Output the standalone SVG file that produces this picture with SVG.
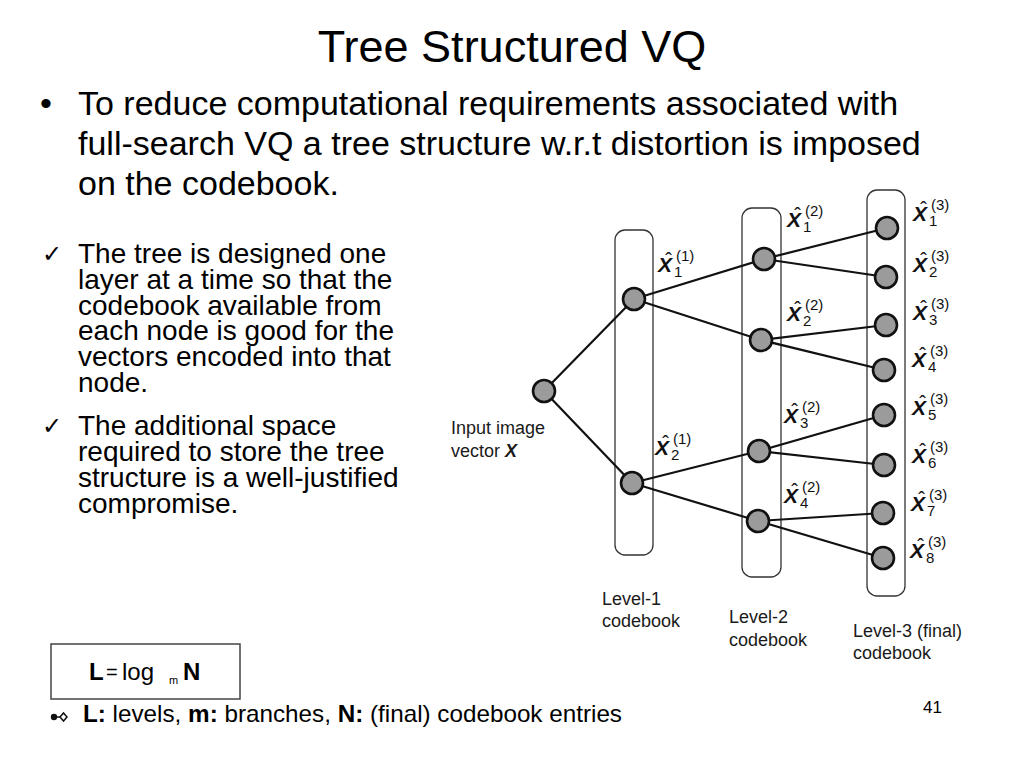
<svg xmlns="http://www.w3.org/2000/svg" width="1024" height="768" viewBox="0 0 1024 768">
<style>
text{font-family:"Liberation Sans",Arial,sans-serif;fill:#000}
.title{font-size:45px}
.b1{font-size:34px}
.b2{font-size:28px}
.chk{font-family:"DejaVu Sans",sans-serif;font-size:24px}
.lab{font-size:18px;fill:#1a1a1a}
.xv{font-size:21px;font-weight:bold;font-style:italic;fill:#111}
.hat{font-size:20px;fill:#111}
.ss{font-size:15px;fill:#111}
.cb{fill:none;stroke:#333;stroke-width:1.3}
.nd{fill:#9b9b9b;stroke:#111;stroke-width:2.6}
.ed{stroke:#111;stroke-width:2.2;fill:none}
.f1{font-size:24px}
</style>
<rect width="1024" height="768" fill="#fff"/>
<text class="title" x="512" y="62" text-anchor="middle">Tree Structured VQ</text>
<g id="main-text">
<text class="b1" x="40" y="115">•</text>
<text class="b1" x="78" y="115">To reduce computational requirements associated with</text>
<text class="b1" x="78" y="155">full-search VQ a tree structure w.r.t distortion is imposed</text>
<text class="b1" x="78" y="195">on the codebook.</text>
</g>
<g id="sub-bullets">
<text class="chk" x="42" y="262">✓</text>
<text class="b2" x="78" y="263">The tree is designed one</text>
<text class="b2" x="78" y="289">layer at a time so that the</text>
<text class="b2" x="78" y="314.5">codebook available from</text>
<text class="b2" x="78" y="340">each node is good for the</text>
<text class="b2" x="78" y="366">vectors encoded into that</text>
<text class="b2" x="78" y="391.5">node.</text>
<text class="chk" x="42" y="434">✓</text>
<text class="b2" x="78" y="435">The additional space</text>
<text class="b2" x="78" y="461">required to store the tree</text>
<text class="b2" x="78" y="487">structure is a well-justified</text>
<text class="b2" x="78" y="513">compromise.</text>
</g>
<g id="codebooks">
<g id="level1-box"><rect class="cb" x="615" y="230" width="38" height="325" rx="10"/></g>
<g id="level2-box"><rect class="cb" x="742" y="208" width="39" height="369" rx="10"/></g>
<g id="level3-box"><rect class="cb" x="867" y="190" width="38" height="406" rx="10"/></g>
</g>
<g id="connectors">
<line class="ed" x1="544" y1="391" x2="634" y2="299"/>
<line class="ed" x1="544" y1="391" x2="632" y2="483"/>
<line class="ed" x1="634" y1="299" x2="764" y2="259"/>
<line class="ed" x1="634" y1="299" x2="761" y2="340"/>
<line class="ed" x1="632" y1="483" x2="759" y2="451"/>
<line class="ed" x1="632" y1="483" x2="758" y2="521"/>
<line class="ed" x1="764" y1="259" x2="887" y2="228"/>
<line class="ed" x1="764" y1="259" x2="886" y2="277"/>
<line class="ed" x1="761" y1="340" x2="886" y2="325"/>
<line class="ed" x1="761" y1="340" x2="884" y2="370"/>
<line class="ed" x1="759" y1="451" x2="884" y2="415"/>
<line class="ed" x1="759" y1="451" x2="884" y2="465"/>
<line class="ed" x1="758" y1="521" x2="883" y2="513"/>
<line class="ed" x1="758" y1="521" x2="883" y2="558"/>
</g>
<g id="root"><circle class="nd" cx="544" cy="391" r="11"/>
<text class="lab" x="451" y="434">Input image</text>
<text class="lab" x="451" y="457">vector <tspan font-weight="bold" font-style="italic">X</tspan></text></g>
<g id="n1-1"><circle class="nd" cx="634" cy="299" r="11"/></g>
<g id="n1-2"><circle class="nd" cx="632" cy="483" r="11"/></g>
<g id="n2-1"><circle class="nd" cx="764" cy="259" r="11"/></g>
<g id="n2-2"><circle class="nd" cx="761" cy="340" r="11"/></g>
<g id="n2-3"><circle class="nd" cx="759" cy="451" r="11"/></g>
<g id="n2-4"><circle class="nd" cx="758" cy="521" r="11"/></g>
<g id="n3-1"><circle class="nd" cx="887" cy="228" r="11"/></g>
<g id="n3-2"><circle class="nd" cx="886" cy="277" r="11"/></g>
<g id="n3-3"><circle class="nd" cx="886" cy="325" r="11"/></g>
<g id="n3-4"><circle class="nd" cx="884" cy="370" r="11"/></g>
<g id="n3-5"><circle class="nd" cx="884" cy="415" r="11"/></g>
<g id="n3-6"><circle class="nd" cx="884" cy="465" r="11"/></g>
<g id="n3-7"><circle class="nd" cx="883" cy="513" r="11"/></g>
<g id="n3-8"><circle class="nd" cx="883" cy="558" r="11"/></g>
<g id="labels">
<g id="x1-1"><text class="xv" x="658" y="272">X</text><text class="hat" x="668.5" y="267" text-anchor="middle">ˆ</text><text class="ss" x="674" y="277">1</text><text class="ss" x="676" y="261">(1)</text></g>
<g id="x2-1"><text class="xv" x="655" y="455">X</text><text class="hat" x="665.5" y="450" text-anchor="middle">ˆ</text><text class="ss" x="671" y="460">2</text><text class="ss" x="673" y="444">(1)</text></g>
<g id="x1-2"><text class="xv" x="787" y="227">X</text><text class="hat" x="797.5" y="222" text-anchor="middle">ˆ</text><text class="ss" x="803" y="232">1</text><text class="ss" x="805" y="216">(2)</text></g>
<g id="x2-2"><text class="xv" x="787" y="321">X</text><text class="hat" x="797.5" y="316" text-anchor="middle">ˆ</text><text class="ss" x="803" y="326">2</text><text class="ss" x="805" y="310">(2)</text></g>
<g id="x3-2"><text class="xv" x="784" y="423">X</text><text class="hat" x="794.5" y="418" text-anchor="middle">ˆ</text><text class="ss" x="800" y="428">3</text><text class="ss" x="802" y="412">(2)</text></g>
<g id="x4-2"><text class="xv" x="784" y="503">X</text><text class="hat" x="794.5" y="498" text-anchor="middle">ˆ</text><text class="ss" x="800" y="508">4</text><text class="ss" x="802" y="492">(2)</text></g>
<g id="x1-3"><text class="xv" x="913" y="221">X</text><text class="hat" x="923.5" y="216" text-anchor="middle">ˆ</text><text class="ss" x="929" y="226">1</text><text class="ss" x="931" y="210">(3)</text></g>
<g id="x2-3"><text class="xv" x="913" y="272">X</text><text class="hat" x="923.5" y="267" text-anchor="middle">ˆ</text><text class="ss" x="929" y="277">2</text><text class="ss" x="931" y="261">(3)</text></g>
<g id="x3-3"><text class="xv" x="913" y="320">X</text><text class="hat" x="923.5" y="315" text-anchor="middle">ˆ</text><text class="ss" x="929" y="325">3</text><text class="ss" x="931" y="309">(3)</text></g>
<g id="x4-3"><text class="xv" x="912" y="367">X</text><text class="hat" x="922.5" y="362" text-anchor="middle">ˆ</text><text class="ss" x="928" y="372">4</text><text class="ss" x="930" y="356">(3)</text></g>
<g id="x5-3"><text class="xv" x="912" y="415">X</text><text class="hat" x="922.5" y="410" text-anchor="middle">ˆ</text><text class="ss" x="928" y="420">5</text><text class="ss" x="930" y="404">(3)</text></g>
<g id="x6-3"><text class="xv" x="912" y="463">X</text><text class="hat" x="922.5" y="458" text-anchor="middle">ˆ</text><text class="ss" x="928" y="468">6</text><text class="ss" x="930" y="452">(3)</text></g>
<g id="x7-3"><text class="xv" x="911" y="511">X</text><text class="hat" x="921.5" y="506" text-anchor="middle">ˆ</text><text class="ss" x="927" y="516">7</text><text class="ss" x="929" y="500">(3)</text></g>
<g id="x8-3"><text class="xv" x="910" y="558">X</text><text class="hat" x="920.5" y="553" text-anchor="middle">ˆ</text><text class="ss" x="926" y="563">8</text><text class="ss" x="928" y="547">(3)</text></g>
</g>
<g id="level-labels">
<text class="lab" x="602" y="605">Level-1</text>
<text class="lab" x="602" y="627">codebook</text>
<text class="lab" x="729" y="623">Level-2</text>
<text class="lab" x="729" y="646">codebook</text>
<text class="lab" x="853" y="637">Level-3 (final)</text>
<text class="lab" x="853" y="659">codebook</text>
</g>
<g id="formula">
<rect x="51" y="644" width="189" height="55" fill="none" stroke="#444" stroke-width="1.5"/>
<text class="f1" x="89" y="680" font-weight="bold">L</text>
<text x="106" y="679" font-size="20">=</text>
<text class="f1" x="122" y="680">log</text>
<text x="169" y="684" font-size="11">m</text>
<text class="f1" x="183" y="680" font-weight="bold">N</text>
</g>
<g id="legend">
<circle cx="54" cy="717" r="3.2" fill="#111"/>
<line x1="54" y1="717" x2="60" y2="717" stroke="#111" stroke-width="1.5"/>
<polygon points="60,717 63.5,713 67,717 63.5,721" fill="#fff" stroke="#111" stroke-width="1.5"/>
<text class="f1" x="83" y="722" textLength="539" lengthAdjust="spacingAndGlyphs"><tspan font-weight="bold">L:</tspan> levels, <tspan font-weight="bold">m:</tspan> branches, <tspan font-weight="bold">N:</tspan> (final) codebook entries</text>
</g>
<text x="923" y="713" font-size="17">41</text>
</svg>
